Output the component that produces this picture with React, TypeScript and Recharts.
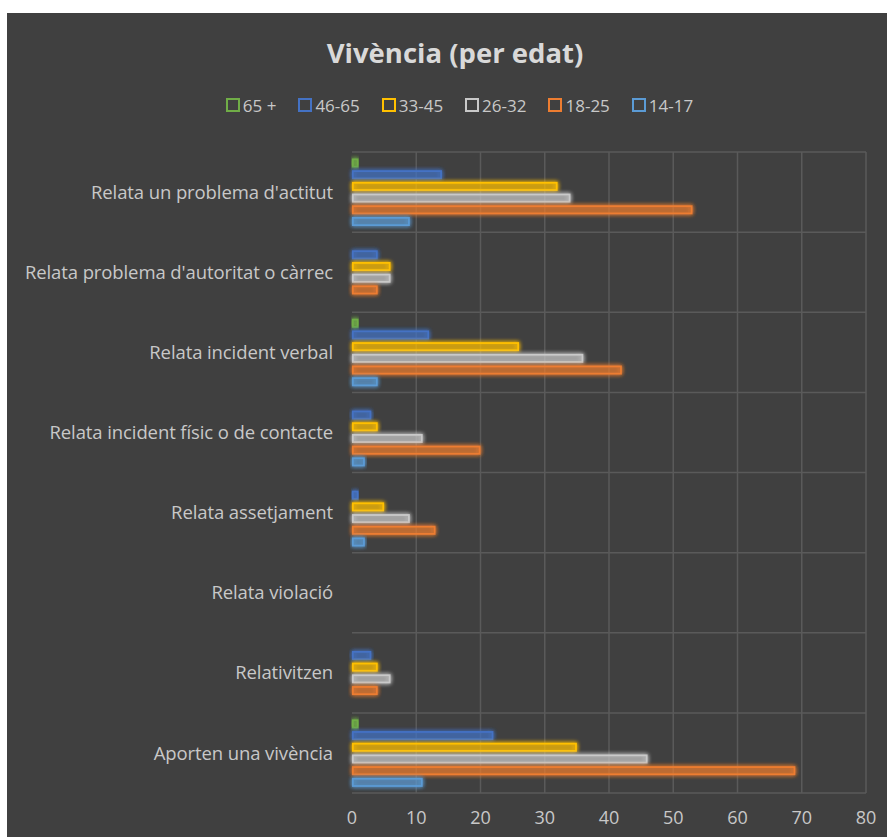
import React from 'react';
import { BarChart, Bar, XAxis, YAxis, CartesianGrid, Legend } from 'recharts';

const categories = [
  "Relata un problema d'actitut",
  "Relata problema d'autoritat o càrrec",
  'Relata incident verbal',
  'Relata incident físic o de contacte',
  'Relata assetjament',
  'Relata violació',
  'Relativitzen',
  'Aporten una vivència',
];

const age65plus = [1, 0, 1, 0, 0, 0, 0, 1];
const age46to65 = [14, 4, 12, 3, 1, 0, 3, 22];
const age33to45 = [32, 6, 26, 4, 5, 0, 4, 35];
const age26to32 = [34, 6, 36, 11, 9, 0, 6, 46];
const age18to25 = [53, 4, 42, 20, 13, 0, 4, 69];
const age14to17 = [9, 0, 4, 2, 2, 0, 0, 11];

const xTicks = [0, 10, 20, 30, 40, 50, 60, 70, 80];

// top bar in each group first
const series = [
  { key: 'a65', name: '65 +', values: age65plus, color: '#70AD47' },
  { key: 'a46', name: '46-65', values: age46to65, color: '#4472C4' },
  { key: 'a33', name: '33-45', values: age33to45, color: '#FFC000' },
  { key: 'a26', name: '26-32', values: age26to32, color: '#C9C9C9' },
  { key: 'a18', name: '18-25', values: age18to25, color: '#ED7D31' },
  { key: 'a14', name: '14-17', values: age14to17, color: '#5B9BD5' },
];

const chartData = categories.map((category, i) => {
  const row: Record<string, string | number> = { category };
  series.forEach(s => {
    row[s.key] = s.values[i];
  });
  return row;
});

const FONT = "'Open Sans', 'DejaVu Sans', sans-serif";
const TEXT = '#c8c8c8';
const GRID = '#5a5a5a';
const LEGEND_H = 24;

const GlowBar = (props: any) => {
  const { x, y, width, height, fill } = props;
  if (!width || width <= 0) return null;
  return (
    <rect
      x={x + 0.9}
      y={y + 0.4}
      width={Math.max(width - 1.8, 0.5)}
      height={height - 0.8}
      fill={fill}
      fillOpacity={0.25}
      stroke={fill}
      strokeWidth={1.8}
      filter="url(#glow)"
    />
  );
};

// legend follows the series order (payload gets reversed in vertical layout)
const LegendContent = () => (
  <div
    style={{
      height: LEGEND_H,
      display: 'flex',
      justifyContent: 'center',
      alignItems: 'center',
      gap: 22,
      fontFamily: FONT,
      fontSize: 17,
      color: TEXT,
      paddingLeft: 46,
    }}
  >
    {series.map(s => (
      <span key={s.key} style={{ display: 'inline-flex', alignItems: 'center' }}>
        <span
          style={{
            width: 10,
            height: 10,
            border: `2px solid ${s.color}`,
            marginRight: 3,
            display: 'inline-block',
          }}
        />
        {s.name}
      </span>
    ))}
  </div>
);

export default function App() {
  const rows = categories.length;
  return (
    <div
      style={{
        position: 'absolute',
        left: 7,
        top: 13,
        width: 880,
        height: 824,
        background: '#404040',
        overflow: 'hidden',
      }}
    >
      <div
        style={{
          position: 'absolute',
          top: 21,
          left: 0,
          width: 896,
          textAlign: 'center',
          fontFamily: FONT,
          fontWeight: 700,
          fontSize: 27.5,
          color: '#d9d9d9',
        }}
      >
        Vivència (per edat)
      </div>
      <BarChart
        width={880}
        height={824}
        data={chartData}
        layout="vertical"
        margin={{ top: 139 - LEGEND_H, right: 21, left: 0, bottom: 14 }}
        barSize={8}
        barGap={3.7}
      >
        <defs>
          <filter id="glow" x="-20%" y="-100%" width="140%" height="300%">
            <feGaussianBlur in="SourceGraphic" stdDeviation="2.2" result="blur" />
            <feMerge>
              <feMergeNode in="blur" />
              <feMergeNode in="blur" />
              <feMergeNode in="SourceGraphic" />
            </feMerge>
          </filter>
        </defs>
        <CartesianGrid
          stroke={GRID}
          strokeWidth={1.5}
          horizontalCoordinatesGenerator={({ offset }: any) =>
            Array.from({ length: rows + 1 }, (_, i) => offset.top + (offset.height * i) / rows)
          }
          verticalCoordinatesGenerator={({ offset }: any) =>
            xTicks.slice(1).map(t => offset.left + (offset.width * t) / 80)
          }
        />
        <XAxis
          type="number"
          domain={[0, 80]}
          ticks={xTicks}
          axisLine={false}
          tickLine={false}
          tickSize={0}
          tickMargin={18}
          height={30}
          tick={{ fill: TEXT, fontSize: 18, fontFamily: FONT }}
        />
        <YAxis
          type="category"
          dataKey="category"
          width={345}
          interval={0}
          axisLine={false}
          tickLine={false}
          tickSize={0}
          tickMargin={19}
          tick={{ fill: TEXT, fontSize: 18.5, fontFamily: FONT, letterSpacing: -0.1 }}
        />
        <Legend verticalAlign="top" align="center" content={LegendContent} wrapperStyle={{ top: 80 }} />
        {series.map(s => (
          <Bar
            key={s.key}
            dataKey={s.key}
            name={s.name}
            fill={s.color}
            shape={GlowBar}
            isAnimationActive={false}
          />
        ))}
      </BarChart>
    </div>
  );
}
